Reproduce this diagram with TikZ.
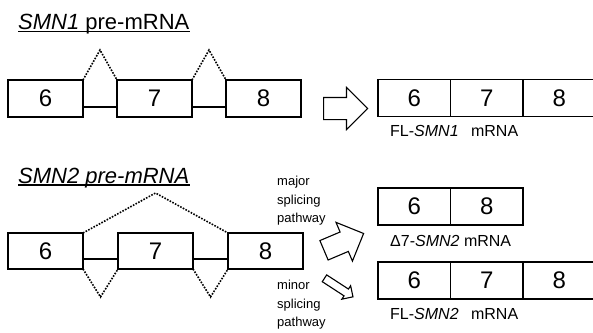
\documentclass[tikz,border=0pt]{standalone}
\usepackage{fontspec}
\setmainfont{Liberation Sans}
\usetikzlibrary{positioning,calc,shapes.arrows}

\begin{document}
\begin{tikzpicture}[
    x=1pt, y=-1pt,
    exon/.style={
      draw,
      line width=1.1pt,
      minimum width=75pt,
      minimum height=37pt,
      inner sep=0pt,
      outer sep=0pt,
      font=\fontsize{24}{24}\selectfont
    },
    seg/.style={exon, minimum width=72.5pt},
    heading/.style={anchor=base west, inner sep=0pt, font=\fontsize{22}{22}\selectfont},
    rnalabel/.style={anchor=north west, inner sep=0pt, font=\fontsize{16}{16}\selectfont},
    route/.style={anchor=north west, inner sep=0pt, align=left, font=\fontsize{13}{18.5}\selectfont},
    intron/.style={line width=1.1pt},
    splice/.style={line width=1.6pt, dash pattern=on 1.6pt off 1.4pt},
    blockarrow/.style={single arrow, draw, line width=1.1pt, inner xsep=0pt,
      single arrow head indent=0pt, anchor=tail}
  ]
    \useasboundingbox (0,0) rectangle (593,332);
    \clip (0,0) rectangle (593,332);

    % SMN1
    \node[heading] (t1) at (18,29.5) {\textit{SMN1} pre-mRNA};
    \draw[line width=1.1pt] ($(t1.base west)+(0,2)$) -- ($(t1.base east)+(0,2)$);

    \node[exon] (e61) at (45.5,98.5) {6};
    \node[exon] (e71) at (154.5,98.5) {7};
    \node[exon] (e81) at (263.5,98.5) {8};
    \draw[intron] ($(e61.south east)+(0,-10)$) -- ($(e71.south west)+(0,-10)$);
    \draw[intron] ($(e71.south east)+(0,-10)$) -- ($(e81.south west)+(0,-10)$);
    \coordinate (p1) at ($(e61.north east)!0.5!(e71.north west)+(0,-30)$);
    \coordinate (p2) at ($(e71.north east)!0.5!(e81.north west)+(0,-30)$);
    \draw[splice] (e61.north east) -- (p1) -- (e71.north west);
    \draw[splice] (e71.north east) -- (p2) -- (e81.north west);

    \node[blockarrow, minimum height=44pt, inner ysep=10.5pt, single arrow head extend=10pt] (a1) at (323,108.5) {};

    \node[seg] (m61) at (414.25,98) {6};
    \node[seg, right=0pt of m61] (m71) {7};
    \node[seg, right=0pt of m71] (m81) {8};
    \node[rnalabel, below right=9pt and 12pt of m61.south west] (l1) {FL-\textit{SMN1}\hspace{0.5em} mRNA};

    % SMN2
    \node[heading] (t2) at (18,183) {\textit{SMN2 pre-mRNA}};
    \draw[line width=1.1pt] ($(t2.base west)+(0,2)$) -- ($(t2.base east)+(0,2)$);

    \node[exon, minimum height=36pt] (e62) at (45.5,251) {6};
    \node[exon, minimum height=36pt] (e72) at (155.5,251) {7};
    \node[exon, minimum height=36pt] (e82) at (265.5,251) {8};
    \draw[intron] ($(e62.south east)+(0,-10)$) -- ($(e72.south west)+(0,-10)$);
    \draw[intron] ($(e72.south east)+(0,-10)$) -- ($(e82.south west)+(0,-10)$);
    \coordinate (q1) at ($(e62.north east)!0.5!(e82.north west)+(0,-40)$);
    \coordinate (q2) at ($(e62.south east)!0.5!(e72.south west)+(0,28)$);
    \coordinate (q3) at ($(e72.south east)!0.5!(e82.south west)+(0,28)$);
    \draw[splice] (e62.north east) -- (q1) -- (e82.north west);
    \draw[splice] (e62.south east) -- (q2) -- (e72.south west);
    \draw[splice] (e72.south east) -- (q3) -- (e82.south west);

    \node[route] (r1) at (277,176) {major\\splicing\\pathway};
    \node[route] (r2) at (277,280) {minor\\splicing\\pathway};
    \node[blockarrow, rotate=23, minimum height=43pt, inner ysep=10pt, single arrow head extend=10.5pt] (a2) at (323.5,250.5) {};
    \node[blockarrow, rotate=-33, minimum height=34pt, inner ysep=3.5pt, single arrow head extend=4pt] (a3) at (324,278) {};

    \node[seg] (d62) at (414.25,206.5) {6};
    \node[seg, right=0pt of d62] (d82) {8};
    \node[rnalabel, below right=10pt and 12pt of d62.south west] (l2) {Δ7-\textit{SMN2} mRNA};

    \node[seg] (f62) at (414.25,280.5) {6};
    \node[seg, right=0pt of f62] (f72) {7};
    \node[seg, right=0pt of f72] (f82) {8};
    \node[rnalabel, below right=9pt and 12pt of f62.south west] (l3) {FL-\textit{SMN2}\hspace{0.5em} mRNA};
  \end{tikzpicture}
\end{document}
